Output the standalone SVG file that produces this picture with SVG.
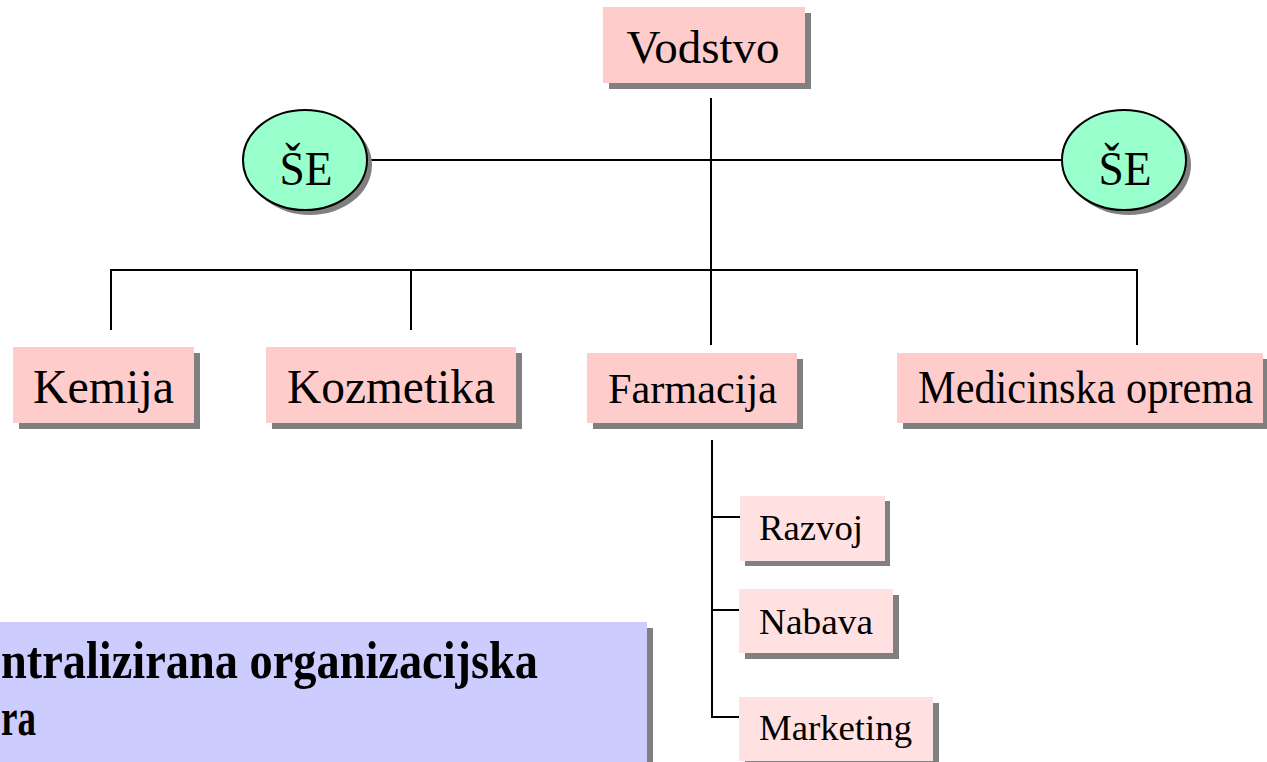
<svg xmlns="http://www.w3.org/2000/svg" width="1267" height="762" viewBox="0 0 1267 762">
<style>
.sh{fill:#808080}
.box{fill:#FFCCCC}
.sub{fill:#FFE1E1}
.ell{fill:#99FFCC;stroke:#000;stroke-width:2}
.t{font-family:"Liberation Serif","Times New Roman",serif;fill:#000}
.big{font-size:47px}
.mid{font-size:43px}
.sm{font-size:35px}
.ln{stroke:#000;stroke-width:2;fill:none}
.bold{font-family:"Liberation Serif","Times New Roman",serif;font-weight:bold;font-size:53px;fill:#000}
</style>
<rect width="1267" height="762" fill="#fff"/>
<g id="connectors">
<line class="ln" x1="711" y1="98" x2="711" y2="345"/>
<line class="ln" x1="367" y1="160" x2="1062" y2="160"/>
<line class="ln" x1="110" y1="270" x2="1138" y2="270"/>
<line class="ln" x1="111" y1="269" x2="111" y2="330"/>
<line class="ln" x1="411" y1="269" x2="411" y2="330"/>
<line class="ln" x1="1137" y1="269" x2="1137" y2="345"/>
<line class="ln" x1="712" y1="440" x2="712" y2="718"/>
<line class="ln" x1="711" y1="517" x2="742" y2="517"/>
<line class="ln" x1="711" y1="610" x2="742" y2="610"/>
<line class="ln" x1="711" y1="717" x2="742" y2="717"/>
</g>
<g id="vodstvo">
<rect class="sh" x="609" y="13" width="202" height="76"/>
<rect class="box" x="603" y="7" width="202" height="76"/>
<text class="t big" x="703" y="63" text-anchor="middle">Vodstvo</text>
</g>
<g id="se-left">
<ellipse class="sh" cx="310" cy="165" rx="62" ry="50"/>
<ellipse class="ell" cx="305" cy="160" rx="62" ry="50"/>
<text class="t" font-size="48" x="306" y="185" text-anchor="middle" textLength="53" lengthAdjust="spacingAndGlyphs">ŠE</text>
</g>
<g id="se-right">
<ellipse class="sh" cx="1129" cy="165" rx="62" ry="50"/>
<ellipse class="ell" cx="1124" cy="160" rx="62" ry="50"/>
<text class="t" font-size="48" x="1125" y="185" text-anchor="middle" textLength="53" lengthAdjust="spacingAndGlyphs">ŠE</text>
</g>
<g id="kemija">
<rect class="sh" x="19" y="353" width="181" height="76"/>
<rect class="box" x="13" y="347" width="181" height="76"/>
<text class="t" font-size="48" x="33" y="403" textLength="141" lengthAdjust="spacingAndGlyphs">Kemija</text>
</g>
<g id="kozmetika">
<rect class="sh" x="272" y="353" width="250" height="76"/>
<rect class="box" x="266" y="347" width="250" height="76"/>
<text class="t" font-size="47.5" x="287" y="403" textLength="208" lengthAdjust="spacingAndGlyphs">Kozmetika</text>
</g>
<g id="farmacija">
<rect class="sh" x="593" y="359" width="210" height="70"/>
<rect class="box" x="587" y="353" width="210" height="70"/>
<text class="t mid" x="608" y="403" textLength="169" lengthAdjust="spacingAndGlyphs">Farmacija</text>
</g>
<g id="medicinska">
<rect class="sh" x="903" y="359" width="364" height="70"/>
<rect class="box" x="897" y="353" width="366" height="70"/>
<text class="t" font-size="46" x="918" y="403" textLength="335" lengthAdjust="spacingAndGlyphs">Medicinska oprema</text>
</g>
<g id="razvoj">
<rect class="sh" x="745" y="501" width="145" height="65"/>
<rect class="sub" x="740" y="496" width="145" height="65"/>
<text class="t sm" x="759" y="540" textLength="104" lengthAdjust="spacingAndGlyphs">Razvoj</text>
</g>
<g id="nabava">
<rect class="sh" x="745" y="595" width="154" height="64"/>
<rect class="sub" x="739" y="589" width="154" height="64"/>
<text class="t sm" x="759" y="634" textLength="114" lengthAdjust="spacingAndGlyphs">Nabava</text>
</g>
<g id="marketing">
<rect class="sh" x="745" y="703" width="194" height="64"/>
<rect class="sub" x="739" y="697" width="194" height="64"/>
<text class="t sm" x="759" y="740" textLength="153" lengthAdjust="spacingAndGlyphs">Marketing</text>
</g>
<g id="title">
<rect class="sh" x="-10" y="628" width="663" height="150"/>
<rect fill="#CCCCFF" x="-16" y="622" width="663" height="150"/>
<text class="bold" x="1" y="678" textLength="537" lengthAdjust="spacingAndGlyphs">ntralizirana organizacijska</text>
<text class="bold" x="1" y="735" textLength="35" lengthAdjust="spacingAndGlyphs">ra</text>
</g>
</svg>
